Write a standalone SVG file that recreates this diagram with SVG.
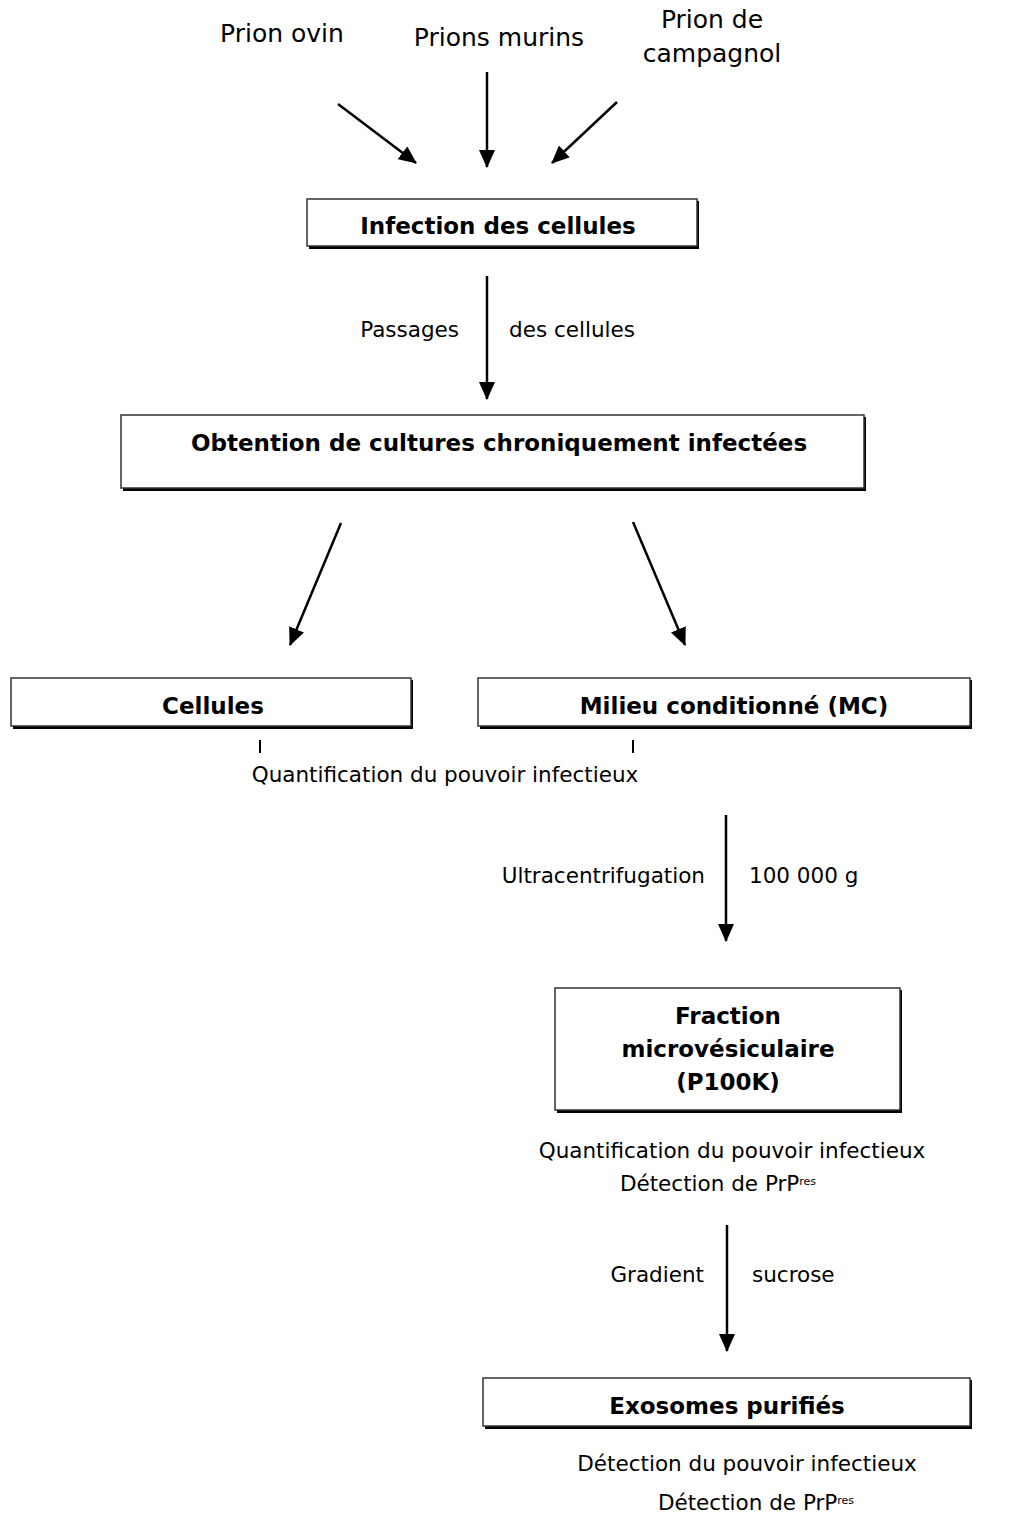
<svg xmlns="http://www.w3.org/2000/svg" width="1015" height="1515" viewBox="0 0 1015 1515">
<defs>
<marker id="ah" viewBox="0 0 18 16" refX="17" refY="8" markerWidth="18" markerHeight="16" markerUnits="userSpaceOnUse" orient="auto">
<path d="M0,0 L18,8 L0,16 Z" fill="#000"/>
</marker>
</defs>
<style>
.t{font-family:"DejaVu Sans","Liberation Sans",sans-serif;fill:#000}
.lbl{font-size:25px}
.sm{font-size:21.5px}
.b{font-size:23px;font-weight:bold}
.shadow{fill:#000}
.box{fill:#fff;stroke:#333;stroke-width:1.5}
.c{stroke:#000;stroke-width:2.5;fill:none;marker-end:url(#ah)}
.tick{stroke:#000;stroke-width:2}
</style>
<rect width="1015" height="1515" fill="#fff"/>

<g id="src-ovin"><text class="t lbl" x="282" y="42" text-anchor="middle">Prion ovin</text></g>
<g id="src-murins"><text class="t lbl" x="499" y="46" text-anchor="middle">Prions murins</text></g>
<g id="src-campagnol"><text class="t lbl" x="712" y="28" text-anchor="middle">Prion de</text><text class="t lbl" x="712" y="62" text-anchor="middle">campagnol</text></g>

<g id="n-infection">
<rect class="shadow" x="309" y="201" width="390" height="48"/>
<rect class="box" x="307" y="199" width="390" height="47"/>
<text class="t b" x="498" y="234" text-anchor="middle">Infection des cellules</text>
</g>

<g id="n-cultures">
<rect class="shadow" x="123" y="417" width="743" height="74"/>
<rect class="box" x="121" y="415" width="743" height="73"/>
<text class="t b" x="499" y="451" text-anchor="middle">Obtention de cultures chroniquement infectées</text>
</g>

<g id="n-cellules">
<rect class="shadow" x="13" y="680" width="400" height="49"/>
<rect class="box" x="11" y="678" width="400" height="48"/>
<text class="t b" x="213" y="714" text-anchor="middle">Cellules</text>
</g>

<g id="n-mc">
<rect class="shadow" x="480" y="680" width="492" height="49"/>
<rect class="box" x="478" y="678" width="492" height="48"/>
<text class="t b" x="734" y="714" text-anchor="middle">Milieu conditionné (MC)</text>
</g>

<g id="n-quant1">
<text class="t sm" x="445" y="782" text-anchor="middle">Quantification du pouvoir infectieux</text>
</g>

<g id="n-p100k">
<rect class="shadow" x="557" y="990" width="345" height="123"/>
<rect class="box" x="555" y="988" width="345" height="122"/>
<text class="t b" x="728" y="1024" text-anchor="middle">Fraction</text>
<text class="t b" x="728" y="1057" text-anchor="middle">microvésiculaire</text>
<text class="t b" x="728" y="1090" text-anchor="middle">(P100K)</text>
</g>

<g id="n-quant2">
<text class="t sm" x="732" y="1158" text-anchor="middle">Quantification du pouvoir infectieux</text>
<text class="t sm" x="718" y="1191" text-anchor="middle">Détection de PrP<tspan font-size="11" dy="-6">res</tspan></text>
</g>

<g id="n-exosomes">
<rect class="shadow" x="485" y="1380" width="487" height="49"/>
<rect class="box" x="483" y="1378" width="487" height="48"/>
<text class="t b" x="727" y="1414" text-anchor="middle">Exosomes purifiés</text>
</g>

<g id="n-detect">
<text class="t sm" x="747" y="1471" text-anchor="middle">Détection du pouvoir infectieux</text>
<text class="t sm" x="756" y="1510" text-anchor="middle">Détection de PrP<tspan font-size="11" dy="-6">res</tspan></text>
</g>

<g id="connectors">
<line class="c" x1="338" y1="104" x2="416" y2="163"/>
<line class="c" x1="487" y1="72" x2="487" y2="167"/>
<line class="c" x1="617" y1="102" x2="552" y2="163"/>
<line class="c" x1="487" y1="276" x2="487" y2="399"/>
<text class="t sm" x="459" y="337" text-anchor="end">Passages</text>
<text class="t sm" x="509" y="337">des cellules</text>
<line class="c" x1="341" y1="523" x2="290" y2="645"/>
<line class="c" x1="633" y1="522" x2="685" y2="645"/>
<line class="tick" x1="260" y1="740" x2="260" y2="753"/>
<line class="tick" x1="633" y1="740" x2="633" y2="753"/>
<line class="c" x1="726" y1="815" x2="726" y2="941"/>
<text class="t sm" x="705" y="883" text-anchor="end">Ultracentrifugation</text>
<text class="t sm" x="749" y="883">100 000 g</text>
<line class="c" x1="727" y1="1225" x2="727" y2="1351"/>
<text class="t sm" x="704" y="1282" text-anchor="end">Gradient</text>
<text class="t sm" x="752" y="1282">sucrose</text>
</g>
</svg>
